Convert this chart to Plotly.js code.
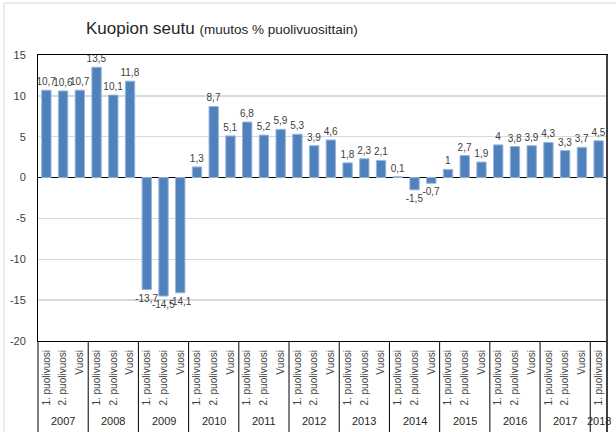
<!DOCTYPE html>
<html>
<head>
<meta charset="utf-8">
<script src="https://cdn.plot.ly/plotly-3.0.1.min.js"></script>
<style>html,body{margin:0;padding:0;background:#fff;}#chart{width:616px;height:432px;}</style>
</head>
<body>
<div id="chart"></div>
<script>
// ---- data ----
const years = ['2007','2008','2009','2010','2011','2012','2013','2014','2015','2016','2017','2018'];
const periodLabels = ['1. puolivuosi', '2. puolivuosi', 'Vuosi'];
const firstHalf  = [10.7, 13.5, -13.7, 1.3, 6.8, 5.3, 1.8, 0.1, 1, 4, 4.3, 4.5];
const secondHalf = [10.6, 10.1, -14.5, 8.7, 5.2, 3.9, 2.3, -1.5, 2.7, 3.8, 3.3];
const wholeYear  = [10.7, 11.8, -14.1, 5.1, 5.9, 4.6, 2.1, -0.7, 1.9, 3.9, 3.7];
const yTicks = [-20, -15, -10, -5, 0, 5, 10, 15];

// ---- build categories ----
const seriesByPeriod = [firstHalf, secondHalf, wholeYear];
const xKeys = [], yVals = [], tickText = [], groups = [];
years.forEach((yr, i) => {
  const start = xKeys.length;
  const keys = [];
  seriesByPeriod.forEach((s, p) => {
    if (s[i] !== undefined) {
      const k = yr + ' ' + periodLabels[p];
      xKeys.push(k); yVals.push(s[i]); tickText.push(periodLabels[p]); keys.push(k);
    }
  });
  groups.push({year: yr, start: start, keys: keys});
});
const labels = yVals.map(v => String(v).replace('.', ','));

const H = 432, T = 55, B = 91, plotH = H - T - B;
const bottomY = -B / plotH;

const shapes = [];
groups.forEach((g, i) => {
  if (i > 0) {
    shapes.push({type:'line', xref:'x', yref:'paper', x0:g.start - 0.5, x1:g.start - 0.5,
      y0:0, y1:bottomY, line:{color:'#000', width:1}});
  }
});
shapes.push({type:'line', xref:'paper', yref:'paper', x0:0, x1:0, y0:0, y1:bottomY, line:{color:'#000', width:1}});
shapes.push({type:'line', xref:'paper', yref:'paper', x0:1, x1:1, y0:1, y1:bottomY, line:{color:'#404040', width:2}});
// outer chart frame
shapes.push({type:'line', xref:'paper', yref:'paper', x0:-34/569, x1:1.2, y0:1 + 52/plotH, y1:1 + 52/plotH, line:{color:'#d9d9d9', width:1}});
shapes.push({type:'line', xref:'paper', yref:'paper', x0:-34/569, x1:-34/569, y0:1 + 52/plotH, y1:bottomY - 0.1, line:{color:'#d9d9d9', width:1}});

const annotations = groups.map(g => ({
  xref:'x', yref:'paper', x: g.keys[Math.floor((g.keys.length - 1) / 2)], y: -80 / plotH,
  text: g.year, showarrow:false, xanchor:'center', yanchor:'middle',
  font:{family:'Liberation Sans, Arial, sans-serif', size:11, color:'#262626'}
}));

const trace = {
  type:'bar', x:xKeys, y:yVals, text:labels, textposition:'outside',
  constraintext:'none', cliponaxis:false, hoverinfo:'none',
  textfont:{family:'Liberation Sans, Arial, sans-serif', size:10, color:'#404040'},
  marker:{color:'#4f81bd', line:{color:'#9bb7db', width:1}}
};

const layout = {
  width:616, height:432,
  margin:{l:38, r:9, t:T, b:B, pad:0},
  paper_bgcolor:'#fff', plot_bgcolor:'#fff',
  showlegend:false, bargap:0.44,
  font:{family:'Liberation Sans, Arial, sans-serif', color:'#404040'},
  title:{
    text:'Kuopion seutu <span style="font-size:13.5px">(muutos % puolivuosittain)</span>',
    xref:'container', yref:'container', x:86/616, xanchor:'left', y:1 - 28/432, yanchor:'middle',
    font:{family:'Liberation Sans, Arial, sans-serif', size:17, color:'#262626'}
  },
  xaxis:{
    type:'category', tickmode:'array', tickvals:xKeys, ticktext:tickText, tickangle:-90,
    tickfont:{family:'Liberation Sans, Arial, sans-serif', size:10, color:'#404040'},
    showgrid:false, zeroline:false, ticks:'outside', ticklen:4, tickcolor:'rgba(0,0,0,0)',
    showline:true, mirror:true, linecolor:'#000', linewidth:1,
    range:[-0.5, xKeys.length - 0.5], fixedrange:true
  },
  yaxis:{
    range:[-20, 15], tickmode:'array', tickvals:yTicks, ticktext:yTicks.map(String),
    tickfont:{family:'Liberation Sans, Arial, sans-serif', size:11, color:'#404040'},
    showgrid:true, gridcolor:'#d9d9d9', gridwidth:1.5,
    zeroline:true, zerolinecolor:'#000', zerolinewidth:1.2,
    ticks:'outside', ticklen:9, tickcolor:'rgba(0,0,0,0)',
    showline:true, mirror:true, linecolor:'#000', linewidth:1, fixedrange:true
  },
  shapes:shapes, annotations:annotations
};

Plotly.newPlot('chart', [trace], layout, {staticPlot:true, displayModeBar:false});
</script>
</body>
</html>
